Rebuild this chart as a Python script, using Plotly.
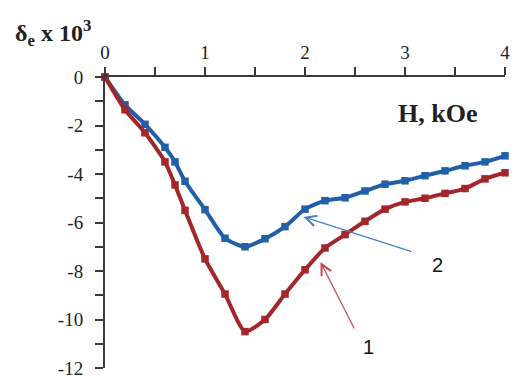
import plotly.graph_objects as go

# Data
H = [0, 0.2, 0.4, 0.6, 0.7, 0.8, 1.0, 1.2, 1.4, 1.6, 1.8, 2.0, 2.2, 2.4, 2.6, 2.8,
     3.0, 3.2, 3.4, 3.6, 3.8, 4.0]
curve1 = [0, -1.35, -2.3, -3.5, -4.45, -5.5, -7.5, -8.95, -10.5, -10.0, -8.95, -7.95,
          -7.05, -6.5, -5.95, -5.45, -5.15, -5.0, -4.8, -4.6, -4.2, -3.95]
curve2 = [0, -1.15, -1.95, -2.9, -3.5, -4.3, -5.47, -6.65, -7.0, -6.67, -6.17, -5.45,
          -5.1, -4.98, -4.7, -4.42, -4.28, -4.07, -3.87, -3.66, -3.5, -3.25]

x_tickvals = [0, 1, 2, 3, 4]
x_ticktext = ["0", "1", "2", "3", "4"]
y_tickvals = [0, -2, -4, -6, -8, -10, -12]
y_ticktext = ["0", "-2", "-4", "-6", "-8", "-10", "-12"]

RED = "#A3262A"
BLUE = "#2160A8"
serif = "Liberation Serif"

fig = go.Figure()
fig.add_trace(go.Scatter(x=H, y=curve2, mode="lines+markers",
                         line=dict(color=BLUE, width=4, shape="spline", smoothing=0.6),
                         marker=dict(symbol="square", size=7.5, color=BLUE),
                         cliponaxis=False, showlegend=False))
fig.add_trace(go.Scatter(x=H, y=curve1, mode="lines+markers",
                         line=dict(color=RED, width=4, shape="spline", smoothing=0.6),
                         marker=dict(symbol="square", size=7.5, color=RED),
                         cliponaxis=False, showlegend=False))

fig.update_layout(
    width=512, height=376,
    margin=dict(l=105, r=7, t=77, b=8, autoexpand=False),
    paper_bgcolor="white", plot_bgcolor="white",
    xaxis=dict(range=[0, 4], side="top", showgrid=False, zeroline=False,
               automargin=False, ticklabeloverflow="allow",
               showline=True, linecolor="#3a3a3a", linewidth=2,
               ticks="outside", ticklen=8, tickwidth=1.5, tickcolor="#3a3a3a",
               tickvals=x_tickvals, ticktext=x_ticktext,
               minor=dict(dtick=0.5, ticks="outside", ticklen=8, tickwidth=1.5,
                          tickcolor="#3a3a3a", showgrid=False),
               tickfont=dict(family=serif, size=19, color="#222"),
               ticklabelstandoff=0),
    yaxis=dict(range=[-12, 0], showgrid=False, zeroline=False,
               automargin=False, ticklabeloverflow="allow",
               showline=True, linecolor="#3a3a3a", linewidth=2,
               ticks="outside", ticklen=8, tickwidth=1.5, tickcolor="#3a3a3a",
               tickvals=y_tickvals, ticktext=y_ticktext,
               minor=dict(dtick=1, ticks="outside", ticklen=8, tickwidth=1.5,
                          tickcolor="#3a3a3a", showgrid=False),
               tickfont=dict(family=serif, size=19, color="#222"),
               ticklabelstandoff=8),
)

annotations = [
    dict(text="<b>H, kOe</b>", x=0.83, y=0.876, xref="paper", yref="paper",
         xanchor="center", yanchor="middle", showarrow=False,
         font=dict(family=serif, size=26, color="#222")),
    dict(text="<b>δ<sub>e</sub> x 10<sup>3</sup></b>", x=-0.13, y=1.15,
         xref="paper", yref="paper", xanchor="center", yanchor="middle",
         showarrow=False, font=dict(family=serif, size=24, color="#222")),
    dict(text="2", x=3.32, y=-7.75, xref="x", yref="y", showarrow=False,
         xanchor="center", yanchor="middle",
         font=dict(family="Liberation Sans", size=20, color="#111")),
    dict(text="1", x=2.63, y=-11.13, xref="x", yref="y", showarrow=False,
         xanchor="center", yanchor="middle",
         font=dict(family="Liberation Sans", size=20, color="#111")),
    dict(text="", x=1.985, y=-5.77, ax=3.08, ay=-7.22, xref="x", yref="y",
         axref="x", ayref="y", showarrow=True, arrowhead=5, arrowsize=1.6,
         arrowwidth=1.3, arrowcolor="#4A80C4"),
    dict(text="", x=2.155, y=-7.63, ax=2.5, ay=-10.43, xref="x", yref="y",
         axref="x", ayref="y", showarrow=True, arrowhead=5, arrowsize=1.6,
         arrowwidth=1.3, arrowcolor="#C0504D"),
]
fig.update_layout(annotations=annotations)

fig.write_html("out.html", config={"displayModeBar": False},
               post_script="document.body.style.margin='0px';document.body.style.padding='0px';")
